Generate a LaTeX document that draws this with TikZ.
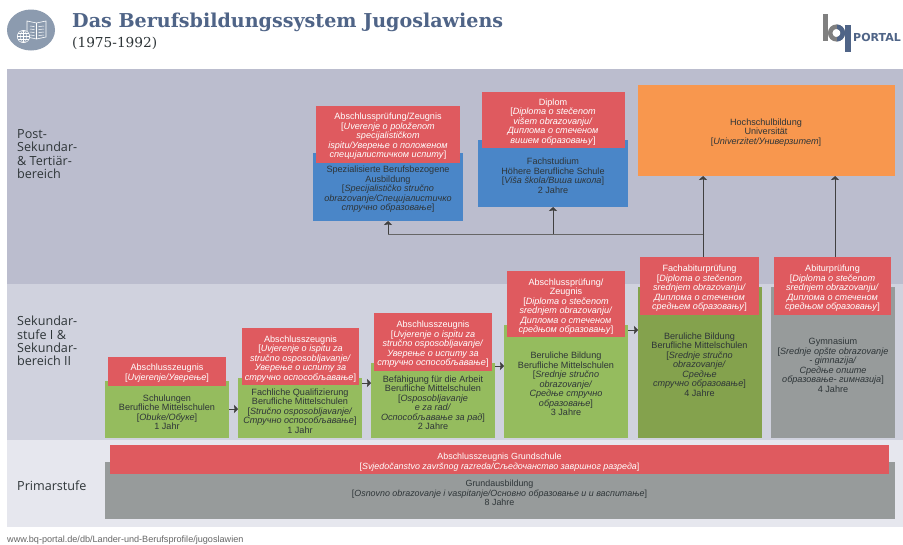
\documentclass[tikz,border=0pt]{standalone}
\usepackage{fontspec}
\setmainfont{Liberation Sans}
\newfontfamily\titlefont{DejaVu Serif}
\newfontfamily\lblfont{Open Sans}
\newfontfamily\logofont{DejaVu Sans}
\usetikzlibrary{arrows.meta,calc,shapes.geometric}
\definecolor{bandA}{HTML}{BBBDCE}
\definecolor{bandB}{HTML}{D0D2DE}
\definecolor{bandC}{HTML}{E6E7EE}
\definecolor{cred}{HTML}{DF5A5F}
\definecolor{cblue}{HTML}{4A86C8}
\definecolor{cgreen}{HTML}{95BC5E}
\definecolor{cdgreen}{HTML}{84A24D}
\definecolor{cgrey}{HTML}{979B9B}
\definecolor{corange}{HTML}{F8974E}
\definecolor{titleblue}{HTML}{4F6487}
\definecolor{iconblue}{HTML}{8C9BAF}
\definecolor{ink}{HTML}{2E3538}
\tikzset{
  box/.style={draw=none,inner sep=0pt,outer sep=0pt},
  body/.style={font=\fontsize{9.1}{9.5}\selectfont,text=ink,align=center,inner sep=0pt,yshift=-1pt},
  redtxt/.style={font=\fontsize{9.1}{9.5}\selectfont,text=white,align=center,inner sep=0pt,yshift=-1pt},
  band/.style={font=\lblfont\fontsize{12.6}{13.3}\selectfont,text=ink,align=left,anchor=west,inner sep=0pt},
  flow/.style={draw=black!75,line width=0.7pt,-{Stealth[length=4pt,width=8pt,inset=0.6pt]}},
  plain/.style={draw=black!60,line width=0.7pt},
}
\newcommand\Bx[6]{\node[box,fill=#2,minimum width={(#5-#3)*1pt},minimum height={(#6-#4)*1pt}] (#1) at ({(#3+#5)/2},{(#4+#6)/2}) {};}
\newcommand\ii[1]{\textit{#1}}
\begin{document}
\begin{tikzpicture}[x=1pt,y=-1pt]
\useasboundingbox (0,0) rectangle (903,544);
\fill[white] (0,0) rectangle (903,544);
% bands
\Bx{bA}{bandA}{7}{69}{903}{284}
\Bx{bB}{bandB}{7}{284}{903}{440}
\Bx{bC}{bandC}{7}{440}{903}{527}
% header icon
\node[box,ellipse,fill=iconblue,minimum width=48pt,minimum height=41pt] (icon) at (31,30) {};
\draw[white,line width=0.6pt,fill=iconblue] (27,21) -- (36.5,23) -- (46,21) -- (46,37) -- (36.5,39) -- (27,37) -- cycle (36.5,23) -- (36.5,39);
\foreach \yy in {26,29,32,35}{\draw[white,line width=0.5pt] (30,\yy) -- (34.5,{\yy+0.6}) (38.5,{\yy+0.6}) -- (44,\yy);}
\draw[white,line width=0.5pt,fill=iconblue] (23.5,36.5) circle (6.2);
\draw[white,line width=0.4pt] (17.3,36.5) -- (29.7,36.5) (18.2,33.5) -- (28.8,33.5) (18.2,39.5) -- (28.8,39.5) (23.5,30.3) -- (23.5,42.7);
\draw[white,line width=0.4pt] (23.5,36.5) ellipse (3 and 6.2);
% title
\node[anchor=base west,inner sep=0pt,text=titleblue,font=\titlefont\bfseries\fontsize{19.1}{22}\selectfont] (title) at (72,27) {Das Berufsbildungssystem Jugoslawiens};
\node[anchor=base west,inner sep=0pt,text=ink,font=\titlefont\fontsize{13.7}{16}\selectfont] (subtitle) at (72,47.5) {(1975-1992)};
% logo
\fill[black!50] (823,14) rectangle (828,41);
\draw[black!50,line width=4.5pt] (836.5,33) circle (6.3);
\begin{scope}
\clip (837,20) rectangle (851,46);
\draw[titleblue,line width=4.5pt] (836.5,33) circle (6.3);
\end{scope}
\fill[titleblue] (845,25) rectangle (851,52);
\node[anchor=base west,inner sep=0pt,text=titleblue,font=\logofont\bfseries\fontsize{11}{13}\selectfont] (portal) at (853,41) {PORTAL};
% band labels
\node[band] (lA) at (17,154) {Post-\\Sekundar-\\\& Tertiär-\\bereich};
\node[band] (lB) at (17,341) {Sekundar-\\stufe I \&\\Sekundar-\\bereich II};
\node[band] (lC) at (17,486) {Primarstufe};
% body boxes
\Bx{b1}{cblue}{313}{153}{463}{221}
\Bx{b2}{cblue}{478}{140}{628}{207}
\Bx{hoch}{corange}{638}{85}{895}{176}
\Bx{g1}{cgreen}{105}{381}{229}{438}
\Bx{g2}{cgreen}{238}{378}{362}{438}
\Bx{g3}{cgreen}{371}{363}{495}{438}
\Bx{g4}{cgreen}{504}{325}{628}{438}
\Bx{g5}{cdgreen}{638}{287}{762}{438}
\Bx{g6}{cgrey}{771}{287}{895}{438}
\Bx{g7}{cgrey}{105}{462}{895}{519}
% red boxes
\Bx{r1}{cred}{316}{106}{460}{163}
\Bx{r2}{cred}{482}{92}{625}{148}
\Bx{rg1}{cred}{108}{357}{226}{386}
\Bx{rg2}{cred}{242}{328}{359}{385}
\Bx{rg3}{cred}{374}{313}{492}{371}
\Bx{rg4}{cred}{507}{271}{625}{337}
\Bx{rg5}{cred}{640}{257}{759}{315}
\Bx{rg6}{cred}{774}{257}{891}{315}
\Bx{rg7}{cred}{110}{445}{889}{474}
% connectors
\coordinate (jl) at (388,234);
\coordinate (jm) at (553,234);
\coordinate (jr) at (704,234);
\coordinate (a5) at (703,257);
\coordinate (a6) at (835,257);
\coordinate (a12) at (229,409);
\coordinate (a23) at (362,383);
\coordinate (a34) at (495,366);
\coordinate (a45) at (628,330);
\draw[plain] (jr) -- (jm);
\draw[plain] (jm) -- (jl);
\draw[flow] (jl) -- (jl |- b1.south);
\draw[flow] (jm) -- (jm |- b2.south);
\draw[flow] (a5) -- (a5 |- hoch.south);
\draw[flow] (a6) -- (a6 |- hoch.south);
\draw[flow] (a12) -- (a12 -| g2.west);
\draw[flow] (a23) -- (a23 -| g3.west);
\draw[flow] (a34) -- (a34 -| g4.west);
\draw[flow] (a45) -- (a45 -| g5.west);
% texts
\node[redtxt] (tr1) at (388,135.5) {Abschlussprüfung/Zeugnis\\{}[\ii{Uverenje o položenom}\\\ii{specijalističkom}\\\ii{ispitu/Уверење о положеном}\\\ii{специјалистичком испиту}]};
\node[body] (tb1) at (388,188.5) {Spezialisierte Berufsbezogene\\Ausbildung\\{}[\ii{Specijalističko stručno}\\\ii{obrazovanje/Специјалистичко}\\\ii{стручно образовање}]};
\node[redtxt] (tr2) at (553,121) {Diplom\\{}[\ii{Diploma o stečenom}\\\ii{višem obrazovanju/}\\\ii{Диплома о стеченом}\\\ii{вишем образовању}]};
\node[body] (tb2) at (553,174.5) {Fachstudium\\Höhere Berufliche Schule\\{}[\ii{Viša škola/Виша школа}]\\2 Jahre};
\node[body] (thoch) at (766,131.5) {Hochschulbildung\\Universität\\{}[\ii{Univerzitet/Универзитет}]};
\node[redtxt] (trg1) at (167,372) {Abschlusszeugnis\\{}[\ii{Uvjerenje/Уверење}]};
\node[body] (tg1) at (167,411) {Schulungen\\Berufliche Mittelschulen\\{}[\ii{Obuke/Обуке}]\\1 Jahr};
\node[redtxt] (trg2) at (300.5,358) {Abschlusszeugnis\\{}[\ii{Uvjerenje o ispitu za}\\\ii{stručno osposobljavanje/}\\\ii{Уверење о испиту за}\\\ii{стручно оспособљавање}]};
\node[body] (tg2) at (300,410) {Fachliche Qualifizierung\\Berufliche Mittelschulen\\{}[\ii{Stručno osposobljavanje/}\\\ii{Стручно оспособљавање}]\\1 Jahr};
\node[redtxt] (trg3) at (433,343.5) {Abschlusszeugnis\\{}[\ii{Uvjerenje o ispitu za}\\\ii{stručno osposobljavanje/}\\\ii{Уверење о испиту за}\\\ii{стручно оспособљавање}]};
\node[body] (tg3) at (433,401.5) {Befähigung für die Arbeit\\Berufliche Mittelschulen\\{}[\ii{Osposobljavanje}\\\ii{e za rad/}\\\ii{Оспособљавање за рад}]\\2 Jahre};
\node[redtxt] (trg4) at (566,305.5) {Abschlussprüfung/\\Zeugnis\\{}[\ii{Diploma o stečenom}\\\ii{srednjem obrazovanju/}\\\ii{Диплома о стеченом}\\\ii{средњом образовању}]};
\node[body] (tg4) at (566,383) {Beruliche Bildung\\Berufliche Mittelschulen\\{}[\ii{Srednje stručno}\\\ii{obrazovanje/}\\\ii{Средње стручно}\\\ii{образовање}]\\3 Jahre};
\node[redtxt] (trg5) at (699.5,287.5) {Fachabiturprüfung\\{}[\ii{Diploma o stečenom}\\\ii{srednjem obrazovanju/}\\\ii{Диплома о стеченом}\\\ii{средњем образовању}]};
\node[body] (tg5) at (699.5,363.5) {Beruliche Bildung\\Berufliche Mittelschulen\\{}[\ii{Srednje stručno}\\\ii{obrazovanje/}\\\ii{Средње}\\\ii{стручно образовање}]\\4 Jahre};
\node[redtxt] (trg6) at (832.5,287.5) {Abiturprüfung\\{}[\ii{Diploma o stečenom}\\\ii{srednjem obrazovanju/}\\\ii{Диплома о стеченом}\\\ii{средњом образовању}]};
\node[body] (tg6) at (833,364) {Gymnasium\\{}[\ii{Srednje opšte obrazovanje}\\\ii{- gimnazija/}\\\ii{Средње опште}\\\ii{образовање- гимназија}]\\4 Jahre};
\node[redtxt,font=\fontsize{8.9}{9.8}\selectfont] (trg7) at (499.5,461) {Abschlusszeugnis Grundschule\\{}[\ii{Svjedočanstvo završnog razreda/Сљедочанство завршног разреда}]};
\node[body,font=\fontsize{8.9}{9.8}\selectfont] (tg7) at (499.5,492) {Grundausbildung\\{}[\ii{Osnovno obrazovanje i vaspitanje/Основно образовање и и васпитање}]\\8 Jahre};
% footer
\node[anchor=base west,inner sep=0pt,text=black!60,font=\fontsize{9.1}{10}\selectfont] (foot) at (7,542) {www.bq-portal.de/db/Lander-und-Berufsprofile/jugoslawien};
\end{tikzpicture}
\end{document}
